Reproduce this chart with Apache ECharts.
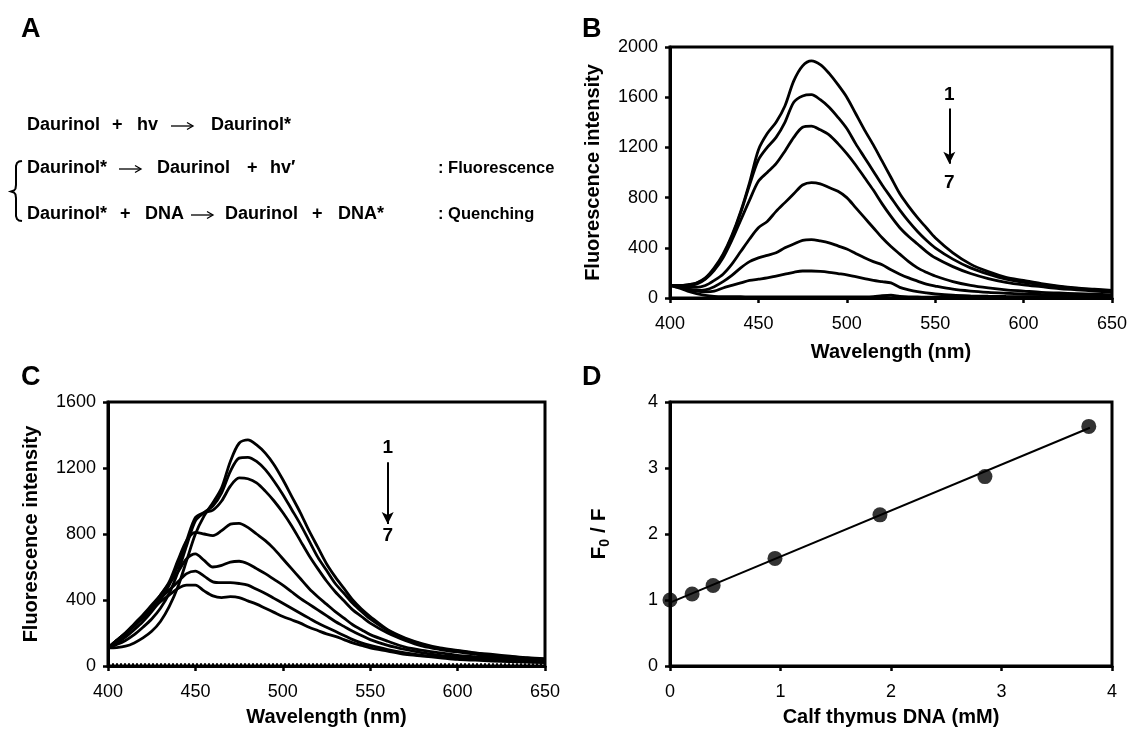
<!DOCTYPE html>
<html><head><meta charset="utf-8">
<script src="https://cdn.jsdelivr.net/npm/echarts@6/dist/echarts.min.js"></script>
<style>html,body{margin:0;padding:0;background:#fff}#c{width:1130px;height:731px}</style>
</head><body><div id="c"></div><script>
// ---- Data ----
const wavelengths = [400,405,410,415,420,425,430,435,440,445,450,455,460,465,470,475,480,485,490,495,500,505,510,515,520,525,530,535,540,545,550,560,570,580,590,600,610,620,630,640,650];

// Panel B: fluorescence spectra 1..7
const b1 = [100,100,105,120,160,240,350,500,690,920,1180,1310,1400,1530,1730,1850,1890,1860,1790,1700,1600,1470,1340,1220,1090,960,830,730,640,560,480,360,270,210,165,140,115,95,80,70,60];
const b2 = [100,100,105,118,155,230,340,490,680,900,1100,1200,1280,1400,1560,1610,1620,1580,1520,1440,1350,1230,1120,1010,900,800,700,610,530,460,400,310,240,190,150,125,105,90,75,65,55];
const b3 = [100,98,100,110,150,220,320,460,620,780,930,1000,1070,1170,1280,1360,1370,1340,1300,1230,1150,1060,960,860,750,650,560,490,430,370,320,250,195,155,125,105,90,75,65,55,45];
const b4 = [100,95,85,85,100,140,190,270,370,470,560,610,690,760,830,900,920,910,880,850,800,720,640,560,480,410,350,290,240,205,175,130,100,80,65,55,45,40,35,30,25];
const b5 = [100,90,70,60,65,90,130,180,240,290,320,340,360,400,430,460,465,455,440,415,390,355,320,290,265,225,190,160,135,110,95,70,55,45,38,32,28,25,22,20,18];
const b6 = [100,85,70,55,50,55,80,100,120,140,150,160,175,190,205,215,215,212,205,195,185,170,155,140,130,120,85,65,50,40,32,22,17,14,12,11,10,10,9,9,8];
const b7 = [100,80,55,35,20,12,10,10,10,9,9,9,8,8,8,8,8,8,8,8,8,8,8,10,18,22,12,8,8,7,7,7,6,6,6,6,5,5,5,5,5];

// Panel C: fluorescence spectra 1..7 (+ blank)
const c1 = [110,112,120,140,170,210,270,360,480,640,800,910,990,1080,1240,1350,1370,1340,1290,1220,1130,1030,930,820,720,620,540,470,400,345,300,220,170,135,110,95,80,70,60,50,45];
const c2 = [110,130,155,190,235,285,350,440,570,730,880,930,970,1050,1180,1260,1265,1240,1190,1120,1040,950,860,760,660,580,500,440,380,330,285,215,165,130,105,90,78,65,55,48,40];
const c3 = [110,140,175,220,270,330,400,490,610,760,900,930,945,1000,1090,1140,1135,1110,1060,1000,930,850,760,670,590,515,450,395,340,300,260,200,155,120,100,85,72,60,52,45,38];
const c4 = [110,150,190,240,300,360,430,510,640,760,810,800,790,820,860,865,840,800,760,710,650,590,530,470,420,375,330,290,250,220,190,150,115,95,80,65,57,50,43,38,33];
const c5 = [110,155,200,255,310,370,430,500,570,650,680,640,600,610,630,635,620,590,560,525,490,450,410,375,340,305,270,240,210,185,160,125,100,80,65,55,48,40,35,32,28];
const c6 = [110,155,200,250,300,355,410,460,510,560,575,545,510,505,505,500,490,465,440,410,380,350,320,290,260,235,210,185,160,140,125,100,80,65,55,45,40,35,30,27,24];
const c7 = [110,155,200,245,290,340,390,430,470,490,490,455,425,415,420,415,395,375,350,325,300,280,260,235,215,195,180,160,140,125,110,90,70,60,50,40,35,30,27,23,20];
const cBlank = [8,8,8,8,8,8,8,8,8,8,8,8,8,8,8,8,8,8,8,8,8,8,8,8,8,8,8,8,8,8,8,8,8,8,8,8,8,8,8,8,8];

// Panel D: Stern-Volmer plot
const dConc = [0, 0.2, 0.39, 0.95, 1.9, 2.85, 3.79];
const dRatio = [1.0, 1.09, 1.22, 1.63, 2.29, 2.87, 3.63];
const dFitX = [0, 3.8];
const dFitY = [0.96, 3.61];

// Tick settings
const bYTicks = {min:0, max:2000, interval:400};
const cYTicks = {min:0, max:1600, interval:400};
const wlTicks = {min:400, max:650, interval:50};
const dTicks = {min:0, max:4, interval:1};

// ---- Chart ----
const FONT = 'Liberation Sans, Arial, sans-serif';
const pairs = (xs, ys) => xs.map((x, i) => [x, ys[i]]);
const plain = v => String(v);

function xAx(gi, t, name, gap) {
  return {type:'value', gridIndex:gi, min:t.min, max:t.max, interval:t.interval,
    name, nameLocation:'middle', nameGap:gap,
    nameTextStyle:{fontFamily:FONT, fontWeight:'bold', fontSize:20, color:'#000'},
    axisLine:{show:true, onZero:false, lineStyle:{color:'#000', width:3}},
    axisTick:{show:true, inside:false, length:5, lineStyle:{color:'#000', width:2.5}},
    axisLabel:{fontFamily:FONT, fontSize:18, color:'#000', margin:17, formatter:plain},
    splitLine:{show:false}};
}
function yAx(gi, t, name, gap, nameStyle) {
  return {type:'value', gridIndex:gi, min:t.min, max:t.max, interval:t.interval,
    name, nameLocation:'middle', nameGap:gap,
    nameTextStyle:Object.assign({fontFamily:FONT, fontWeight:'bold', fontSize:20, color:'#000'}, nameStyle||{}),
    axisLine:{show:true, onZero:false, lineStyle:{color:'#000', width:3}},
    axisTick:{show:true, inside:false, length:5, lineStyle:{color:'#000', width:2.5}},
    axisLabel:{fontFamily:FONT, fontSize:18, color:'#000', margin:12, formatter:plain},
    splitLine:{show:false}};
}
function curve(gi, ys, extra) {
  return Object.assign({type:'line', xAxisIndex:gi, yAxisIndex:gi, data:pairs(wavelengths, ys),
    showSymbol:false, smooth:0.3, lineStyle:{color:'#000', width:2.8}, silent:true, animation:false, z:3}, extra||{});
}
function arrowMarks(top1, arrowTop, arrowBot, seven, x) {
  return {
    markLine:{silent:true, symbol:['none','arrow'], symbolSize:[9,12], animation:false,
      lineStyle:{color:'#000', width:2, type:'solid'}, label:{show:false},
      data:[[{coord:[x, arrowTop]}, {coord:[x, arrowBot]}]]},
    markPoint:{silent:true, symbol:'circle', symbolSize:0, animation:false,
      label:{show:true, formatter:'{b}', fontFamily:FONT, fontWeight:'bold', fontSize:19, color:'#000', position:'inside'},
      data:[{name:'1', coord:[x, top1]}, {name:'7', coord:[x, seven]}]}
  };
}

const chart = echarts.init(document.getElementById('c'), null, {renderer:'canvas'});
const gridStyle = {show:true, borderColor:'#000', borderWidth:3, backgroundColor:'transparent', containLabel:false};

const TXT = 'bold 18px ' + FONT;
const TXT2 = 'bold 16.5px ' + FONT;
function t(x, y, s, font) {
  return {type:'text', x, y, style:{text:s, font:font || TXT, fill:'#000', verticalAlign:'middle'}};
}
function arr(x, y) {
  return [
    {type:'line', shape:{x1:x, y1:y, x2:x+21, y2:y}, style:{stroke:'#000', lineWidth:1.3}},
    {type:'polyline', shape:{points:[[x+16, y-3.5],[x+22, y],[x+16, y+3.5]]}, style:{stroke:'#000', lineWidth:1.3, fill:null}}
  ];
}

const option = {
  backgroundColor:'#fff',
  animation:false,
  grid:[
    Object.assign({left:670, top:47, width:442, height:251}, gridStyle),
    Object.assign({left:108, top:402, width:437, height:264}, gridStyle),
    Object.assign({left:670, top:402, width:442, height:264}, gridStyle)
  ],
  xAxis:[
    xAx(0, wlTicks, 'Wavelength (nm)', 44),
    xAx(1, wlTicks, 'Wavelength (nm)', 41),
    xAx(2, dTicks, 'Calf thymus DNA (mM)', 41)
  ],
  yAxis:[
    yAx(0, bYTicks, 'Fluorescence intensity', 67),
    yAx(1, cYTicks, 'Fluorescence intensity', 67),
    yAx(2, dTicks, '{m|F}{s|0}{m| / F}', 58, {rich:{m:{fontFamily:FONT, fontWeight:'bold', fontSize:21, color:'#000'}, s:{fontFamily:FONT, fontWeight:'bold', fontSize:14, color:'#000', verticalAlign:'bottom', padding:[12,0,0,0]}}})
  ],
  series:[
    curve(0, b1, arrowMarks(1620, 1510, 1070, 920, 558)),
    curve(0, b2), curve(0, b3), curve(0, b4), curve(0, b5), curve(0, b6), curve(0, b7),
    curve(1, c1, arrowMarks(1320, 1235, 860, 790, 560)),
    curve(1, c2), curve(1, c3), curve(1, c4), curve(1, c5), curve(1, c6), curve(1, c7),
    curve(1, cBlank, {smooth:false, lineStyle:{color:'#000', width:3, type:[2,2]}}),
    {type:'line', xAxisIndex:2, yAxisIndex:2, data:pairs(dFitX, dFitY), showSymbol:false,
      lineStyle:{color:'#000', width:2}, silent:true, z:3},
    {type:'scatter', xAxisIndex:2, yAxisIndex:2, data:pairs(dConc, dRatio), symbol:'circle', symbolSize:15,
      itemStyle:{color:'#000'}, silent:true, z:4}
  ],
  graphic:[].concat(
    [
      {type:'text', x:21, y:30, style:{text:'A', font:'bold 27px '+FONT, fill:'#000', verticalAlign:'middle'}},
      {type:'text', x:582, y:30, style:{text:'B', font:'bold 27px '+FONT, fill:'#000', verticalAlign:'middle'}},
      {type:'text', x:21, y:378, style:{text:'C', font:'bold 27px '+FONT, fill:'#000', verticalAlign:'middle'}},
      {type:'text', x:582, y:378, style:{text:'D', font:'bold 27px '+FONT, fill:'#000', verticalAlign:'middle'}},
      // line 1
      t(27, 125, 'Daurinol'), t(112, 125, '+'), t(137, 125, 'hv'), t(211, 125, 'Daurinol*'),
      // line 2
      t(27, 168, 'Daurinol*'), t(157, 168, 'Daurinol'), t(247, 168, '+'), t(270, 168, 'hv\u2032'),
      t(438, 168, ': Fluorescence', TXT2),
      // line 3
      t(27, 214, 'Daurinol*'), t(120, 214, '+'), t(145, 214, 'DNA'), t(225, 214, 'Daurinol'),
      t(312, 214, '+'), t(338, 214, 'DNA*'), t(438, 214, ': Quenching', TXT2),
      {type:'polyline', shape:{points:[[22,161],[19,161.5],[17,163],[16,166],[16,185],[15.5,188.5],[14,190.5],[11,191.5],[14,192.5],[15.5,194.5],[16,198],[16,216],[17,219],[19,220.5],[22,221]]},
        style:{stroke:'#000', lineWidth:2, fill:null}}
    ],
    arr(171, 126), arr(119, 169), arr(191, 215)
  )
};
chart.setOption(option);
</script></body></html>
